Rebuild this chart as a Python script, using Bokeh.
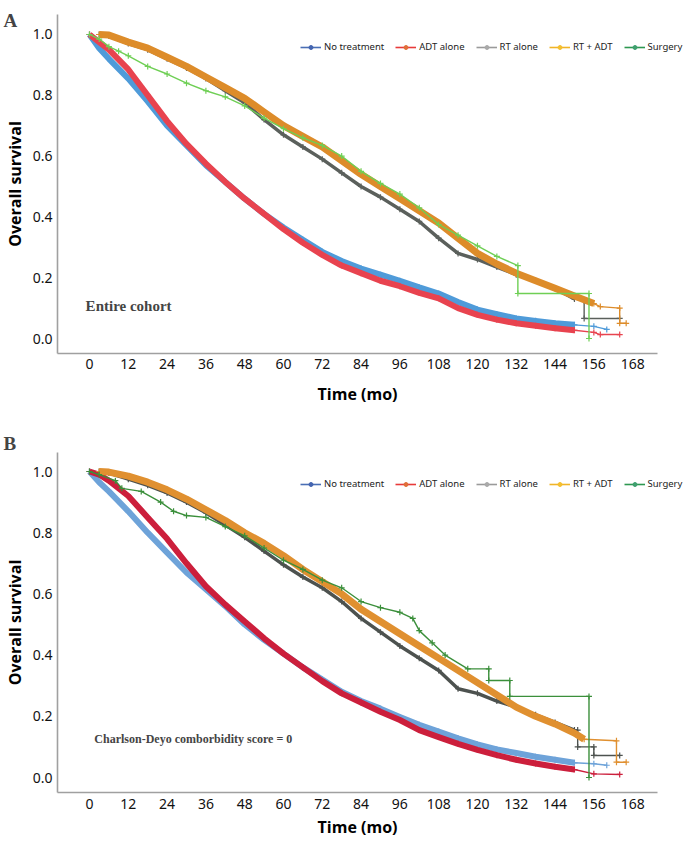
from bokeh.plotting import figure
from bokeh.models import Range1d, Legend, LegendItem, Label, FixedTicker, LinearAxis
from bokeh.layouts import column
from bokeh.embed import file_html
from bokeh.resources import INLINE

# ---------------- data ----------------
x_ticks = [0, 12, 24, 36, 48, 60, 72, 84, 96, 108, 120, 132, 144, 156, 168]
y_ticks = [0.0, 0.2, 0.4, 0.6, 0.8, 1.0]
group_names = ["No treatment", "ADT alone", "RT alone", "RT + ADT", "Surgery"]

# Panel A: entire cohort
a_none_t = [0, 3, 6, 12, 18, 24, 30, 36, 42, 48, 54, 60, 66, 72, 78, 84, 90, 96, 102, 108, 114, 120, 126, 132, 138, 144, 150, 156, 160]
a_none_s = [1.0, 0.955, 0.92, 0.855, 0.78, 0.70, 0.635, 0.57, 0.515, 0.46, 0.41, 0.365, 0.325, 0.285, 0.255, 0.23, 0.21, 0.19, 0.168, 0.148, 0.12, 0.095, 0.08, 0.066, 0.058, 0.05, 0.045, 0.04, 0.03]
a_adt_t = [0, 3, 6, 12, 18, 24, 30, 36, 42, 48, 54, 60, 66, 72, 78, 84, 90, 96, 102, 108, 114, 120, 126, 132, 138, 144, 150, 156, 158, 164]
a_adt_s = [1.0, 0.975, 0.95, 0.885, 0.80, 0.715, 0.64, 0.575, 0.515, 0.46, 0.41, 0.36, 0.315, 0.275, 0.24, 0.215, 0.19, 0.172, 0.15, 0.132, 0.10, 0.078, 0.062, 0.05, 0.042, 0.034, 0.027, 0.02, 0.013, 0.013]
a_rt_t = [3, 6, 12, 18, 24, 30, 36, 42, 48, 54, 60, 66, 72, 78, 84, 90, 96, 102, 108, 114, 120, 126, 132, 138, 144, 150, 153, 153, 164]
a_rt_s = [1.0, 0.995, 0.97, 0.95, 0.92, 0.89, 0.855, 0.815, 0.775, 0.72, 0.67, 0.63, 0.59, 0.545, 0.50, 0.465, 0.425, 0.385, 0.33, 0.28, 0.26, 0.235, 0.21, 0.19, 0.165, 0.13, 0.125, 0.066, 0.066]
a_rtadt_t = [3, 6, 12, 18, 24, 30, 36, 42, 48, 54, 60, 66, 72, 78, 84, 90, 96, 102, 108, 114, 120, 126, 132, 138, 144, 150, 156, 158, 164, 164, 166]
a_rtadt_s = [1.0, 0.998, 0.975, 0.955, 0.925, 0.895, 0.86, 0.825, 0.79, 0.745, 0.70, 0.665, 0.63, 0.585, 0.54, 0.50, 0.46, 0.42, 0.38, 0.33, 0.28, 0.245, 0.215, 0.19, 0.165, 0.14, 0.115, 0.105, 0.10, 0.05, 0.05]
a_surg_t = [0, 3, 6, 9, 12, 18, 24, 30, 36, 42, 48, 54, 60, 66, 72, 78, 84, 90, 96, 102, 108, 114, 120, 126, 132.5, 132.5, 154.5, 154.5]
a_surg_s = [1.0, 0.985, 0.96, 0.945, 0.93, 0.895, 0.87, 0.84, 0.815, 0.795, 0.765, 0.725, 0.69, 0.66, 0.635, 0.60, 0.55, 0.51, 0.475, 0.43, 0.375, 0.34, 0.305, 0.27, 0.24, 0.148, 0.148, 0.0]

# Panel B: Charlson-Deyo score = 0
b_none_t = [0, 3, 6, 12, 18, 24, 30, 36, 42, 48, 54, 60, 66, 72, 78, 84, 90, 96, 102, 108, 114, 120, 126, 132, 138, 144, 150, 156, 160]
b_none_s = [1.0, 0.965, 0.935, 0.87, 0.80, 0.735, 0.67, 0.615, 0.56, 0.50, 0.45, 0.405, 0.36, 0.32, 0.28, 0.25, 0.225, 0.198, 0.172, 0.15, 0.128, 0.108, 0.092, 0.08, 0.068, 0.058, 0.048, 0.045, 0.04]
b_adt_t = [0, 3, 6, 12, 18, 24, 30, 36, 42, 48, 54, 60, 66, 72, 78, 84, 90, 96, 102, 108, 114, 120, 126, 132, 138, 144, 150, 156, 164]
b_adt_s = [1.0, 0.99, 0.97, 0.92, 0.85, 0.78, 0.70, 0.625, 0.565, 0.51, 0.455, 0.405, 0.36, 0.315, 0.275, 0.245, 0.215, 0.188, 0.155, 0.132, 0.11, 0.09, 0.073, 0.058, 0.046, 0.035, 0.026, 0.012, 0.01]
b_rt_t = [3, 6, 12, 18, 24, 30, 36, 42, 48, 54, 60, 66, 72, 78, 84, 90, 96, 102, 108, 114, 120, 126, 132, 138, 144, 150, 151, 151, 156, 156, 164]
b_rt_s = [1.0, 0.995, 0.975, 0.955, 0.93, 0.90, 0.865, 0.825, 0.785, 0.74, 0.695, 0.655, 0.62, 0.575, 0.52, 0.475, 0.43, 0.39, 0.35, 0.29, 0.275, 0.25, 0.23, 0.205, 0.18, 0.155, 0.155, 0.10, 0.10, 0.072, 0.072]
b_rtadt_t = [3, 6, 12, 18, 24, 30, 36, 42, 48, 54, 60, 66, 72, 78, 84, 90, 96, 102, 108, 114, 120, 126, 132, 138, 144, 150, 153, 163, 163, 166]
b_rtadt_s = [1.0, 0.998, 0.985, 0.965, 0.94, 0.91, 0.875, 0.84, 0.80, 0.765, 0.725, 0.68, 0.64, 0.60, 0.55, 0.51, 0.47, 0.43, 0.39, 0.35, 0.31, 0.27, 0.23, 0.20, 0.175, 0.145, 0.125, 0.12, 0.05, 0.05]
b_surg_t = [0, 3, 8, 10, 16, 22, 26, 30, 36, 42, 48, 54, 60, 66, 72, 78, 84, 90, 96, 100, 102, 106, 110, 117, 123.5, 123.5, 130, 130, 154.5, 154.5]
b_surg_s = [1.0, 0.99, 0.97, 0.945, 0.935, 0.90, 0.87, 0.856, 0.85, 0.82, 0.79, 0.75, 0.71, 0.68, 0.645, 0.62, 0.575, 0.555, 0.54, 0.52, 0.48, 0.44, 0.40, 0.355, 0.355, 0.317, 0.317, 0.265, 0.265, 0.0]

# ---------------- styles ----------------
legend_line_colors = ["#4a6fb5", "#e83a3a", "#9a9a9a", "#f0b428", "#2e9850"]
legend_dot_colors = ["#4565b0", "#e0703a", "#aaaaaa", "#f5c030", "#40a070"]
TICK_FONT = "Noto Sans"
AXIS_FONT = "Open Sans"
SERIF = "Liberation Serif"

W = 686
H = 421
X_LO, X_HI = -27.53, 184.66          # full figure width in months
AX_X0, AX_X1 = -9.9, 175.8            # visible axis extent


def make_panel(series, y_lo, y_hi, ax_y0, ax_y1, tick_standoff, label_standoff,
               panel_letter, letter_y, note_text, note_x, note_y, note_size, legend_y):
    p = figure(width=W, height=H, output_backend="svg", toolbar_location=None,
               x_range=Range1d(X_LO, X_HI), y_range=Range1d(y_lo, y_hi),
               x_axis_location=None, y_axis_location=None,
               min_border=0, min_border_left=0, min_border_right=0,
               min_border_top=0, min_border_bottom=0)
    p.outline_line_color = None
    p.xgrid.visible = False
    p.ygrid.visible = False
    p.background_fill_color = "white"
    p.border_fill_color = "white"

    xax = LinearAxis(fixed_location=ax_y0, bounds=(AX_X0, AX_X1),
                     ticker=FixedTicker(ticks=x_ticks), axis_label="Time (mo)")
    yax = LinearAxis(fixed_location=AX_X0, bounds=(ax_y0, ax_y1),
                     ticker=FixedTicker(ticks=y_ticks), axis_label="Overall survival")
    yax.major_label_overrides = {v: f"{v:.1f}" for v in y_ticks}
    for ax in (xax, yax):
        ax.axis_line_color = "#a0a0a0"
        ax.axis_line_width = 1.6
        ax.major_tick_line_color = None
        ax.minor_tick_line_color = None
        ax.major_tick_out = 0
        ax.major_tick_in = 0
        ax.major_label_text_font = TICK_FONT
        ax.major_label_text_font_size = "14px"
        ax.major_label_text_color = "#111111"
        ax.axis_label_text_font = AXIS_FONT
        ax.axis_label_text_font_style = "bold"
        ax.axis_label_text_font_size = "16px"
        ax.axis_label_text_color = "#000000"
    xax.major_label_standoff = tick_standoff
    yax.major_label_standoff = 5
    xax.axis_label_standoff = label_standoff
    yax.axis_label_standoff = 4
    p.add_layout(xax, "below")
    p.add_layout(yax, "left")

    for (t, s, color, thick, limit) in series:
        p.line(t, s, line_color=color, line_width=1.4)
        tt = [a for a in t if a <= limit]
        ss = s[:len(tt)]
        if thick > 1.5:
            p.line(tt, ss, line_color=color, line_width=thick, line_join="round")
        p.scatter(t, s, marker="cross", size=6, line_color=color, line_width=1.2)

    # legend with off-range dummy renderers
    items = []
    for name, lc, dc in zip(group_names, legend_line_colors, legend_dot_colors):
        rl = p.line([-1000, -999], [-1000, -1000], line_color=lc, line_width=1.6)
        rd = p.scatter([-1000], [-1000], marker="circle", size=7, fill_color=dc, line_color=dc)
        items.append(LegendItem(label=name, renderers=[rl, rd]))
    leg = Legend(items=items, orientation="horizontal", location=(300, legend_y),
                 background_fill_alpha=0, border_line_color=None,
                 label_text_font=TICK_FONT, label_text_font_size="9.5px",
                 label_text_color="#222222",
                 glyph_width=21, glyph_height=10, label_standoff=3, spacing=11,
                 padding=0, margin=0, label_height=12)
    p.add_layout(leg)

    p.add_layout(Label(x=-26.6, y=letter_y, text=panel_letter, text_font=SERIF,
                       text_font_style="bold", text_font_size="19px",
                       text_baseline="top", text_align="left"))
    p.add_layout(Label(x=note_x, y=note_y, text=note_text, text_font=SERIF,
                       text_font_style="bold", text_font_size=note_size,
                       text_baseline="middle", text_align="left"))
    return p


series_a = [
    (a_none_t, a_none_s, "#4f9bd9", 6, 150),
    (a_adt_t, a_adt_s, "#e8434f", 6, 150),
    (a_rt_t, a_rt_s, "#5b605c", 3.5, 150),
    (a_rtadt_t, a_rtadt_s, "#dd8c2a", 7, 156),
    (a_surg_t, a_surg_s, "#6fcf55", 1.4, 0),
]
series_b = [
    (b_none_t, b_none_s, "#6ea3d9", 6, 150),
    (b_adt_t, b_adt_s, "#cc1f3c", 6, 150),
    (b_rt_t, b_rt_s, "#4d524f", 3.5, 150),
    (b_rtadt_t, b_rtadt_s, "#e09030", 7, 156),
    (b_surg_t, b_surg_s, "#3b8f3b", 1.4, 0),
]

pa = make_panel(series_a, -0.273, 1.1118, -0.05, 1.066, 5, 11, "A", 1.082,
                "Entire cohort", -1.2, 0.108, "15px", 368)
pb = make_panel(series_b, -0.2124, 1.1634, -0.049, 1.062, 7, 3, "B", 1.127,
                "Charlson-Deyo comborbidity score = 0", 1.5, 0.127, "12px", 352)

layout = column(pa, pb, spacing=0)
open("out.html", "w").write(file_html(layout, INLINE))
